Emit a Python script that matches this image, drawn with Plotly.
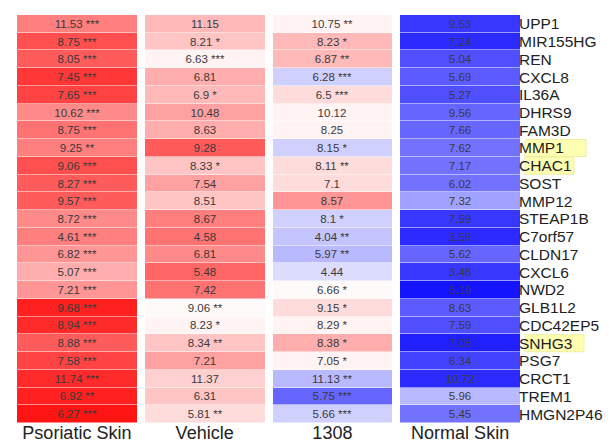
import plotly.graph_objects as go

samples = ["Psoriatic Skin", "Vehicle", "1308", "Normal Skin"]
genes = ["UPP1", "MIR155HG", "REN", "CXCL8", "IL36A", "DHRS9", "FAM3D", "MMP1",
         "CHAC1", "SOST", "MMP12", "STEAP1B", "C7orf57", "CLDN17", "CXCL6", "NWD2",
         "GLB1L2", "CDC42EP5", "SNHG3", "PSG7", "CRCT1", "TREM1", "HMGN2P46"]

# displayed expression values and significance marks
psoriatic = [11.53, 8.75, 8.05, 7.45, 7.65, 10.62, 8.75, 9.25, 9.06, 8.27, 9.57, 8.72,
             4.61, 6.82, 5.07, 7.21, 9.68, 8.94, 8.88, 7.58, 11.74, 6.92, 6.27]
psoriatic_sig = ["***", "***", "***", "***", "***", "***", "***", "**", "***", "***", "***", "***",
                 "***", "***", "***", "***", "***", "***", "***", "***", "***", "**", "***"]
vehicle = [11.15, 8.21, 6.63, 6.81, 6.9, 10.48, 8.63, 9.28, 8.33, 7.54, 8.51, 8.67,
           4.58, 6.81, 5.48, 7.42, 9.06, 8.23, 8.34, 7.21, 11.37, 6.31, 5.81]
vehicle_sig = ["", "*", "***", "", "*", "", "", "", "*", "", "", "",
               "", "", "", "", "**", "*", "**", "", "", "", "**"]
c1308 = [10.75, 8.23, 6.87, 6.28, 6.5, 10.12, 8.25, 8.15, 8.11, 7.1, 8.57, 8.1,
         4.04, 5.97, 4.44, 6.66, 9.15, 8.29, 8.38, 7.05, 11.13, 5.75, 5.66]
c1308_sig = ["**", "*", "**", "***", "***", "", "", "*", "**", "", "", "*",
             "**", "**", "", "*", "*", "*", "*", "*", "**", "***", "***"]
normal = [9.53, 7.24, 5.04, 5.69, 5.27, 9.56, 7.66, 7.62, 7.17, 6.02, 7.32, 7.59,
          3.59, 5.62, 3.48, 5.19, 8.63, 7.59, 7.08, 6.34, 10.72, 5.96, 5.45]
normal_sig = [""] * len(genes)

# relative colour scores (row-scaled, -1 = blue, +1 = red)
psoriatic_score = [0.55, 0.75, 0.7, 0.85, 0.8, 0.5, 0.6, 0.55, 0.75, 0.7, 0.7, 0.5,
                   0.55, 0.45, 0.35, 0.45, 0.95, 0.9, 0.7, 0.8, 0.9, 0.95, 1.0]
vehicle_score = [0.3, 0.25, 0.05, 0.35, 0.3, 0.4, 0.35, 0.7, 0.25, 0.4, 0.25, 0.55,
                 0.6, 0.5, 0.65, 0.6, 0.02, 0.05, 0.25, 0.4, 0.2, 0.25, 0.15]
c1308_score = [0.05, 0.3, 0.3, -0.2, 0.15, 0.05, 0.05, -0.2, 0.15, 0.15, 0.45, -0.2,
               -0.25, -0.3, -0.15, 0.02, 0.15, 0.05, 0.35, 0.05, -0.3, -0.65, -0.2]
normal_score = [-0.85, -0.9, -0.75, -0.7, -0.75, -0.65, -0.65, -0.6, -0.6, -0.6, -0.4, -0.85,
                -0.9, -0.65, -0.85, -1.0, -0.7, -0.75, -0.95, -0.8, -0.9, -0.3, -0.6]

highlighted = {"MMP1": 578, "CHAC1": 566, "SNHG3": 576}

cols_v = [psoriatic, vehicle, c1308, normal]
cols_s = [psoriatic_sig, vehicle_sig, c1308_sig, normal_sig]
cols_z = [psoriatic_score, vehicle_score, c1308_score, normal_score]
n = len(genes)
z = [[cols_z[c][r] for c in range(4)] for r in range(n)]
text = [[f"{cols_v[c][r]:g} {cols_s[c][r]}".strip() for c in range(4)] for r in range(n)]

fig = go.Figure(go.Heatmap(
    z=z, x=list(range(4)), y=list(range(n)),
    text=text, texttemplate="%{text}",
    textfont=dict(family="Liberation Sans, Arial, sans-serif", size=11.5, color="#3a3a3a"),
    colorscale=[[0, "rgb(20,20,255)"], [0.5, "rgb(255,255,255)"], [1, "rgb(255,20,20)"]],
    zmin=-1, zmax=1, showscale=False, xgap=8, ygap=0.5,
    hoverinfo="skip",
))

W, H = 613, 445
L, R, T, B = 5, 97, 7, 30
pw = W - L - R
for g, xr in highlighted.items():
    i = genes.index(g)
    fig.add_shape(type="rect", xref="paper", yref="y",
                  x0=(517 - L) / pw, x1=(xr - L) / pw, y0=i - 0.48, y1=i + 0.48,
                  fillcolor="rgba(255,255,165,0.85)", line=dict(color="rgba(240,240,160,1)", width=1),
                  layer="below")

fig.update_layout(
    width=W, height=H, margin=dict(l=L, r=R, t=T, b=B, autoexpand=False),
    paper_bgcolor="white", plot_bgcolor="white",
    font=dict(family="Liberation Sans, Arial, sans-serif"),
    xaxis=dict(tickvals=list(range(4)), ticktext=samples, showgrid=False, zeroline=False,
               ticks="", ticklen=0, tickfont=dict(size=18, color="#222"), range=[-0.5, 3.5],
               ticklabelstandoff=-3, automargin=False),
    yaxis=dict(tickvals=list(range(n)), ticktext=genes, side="right", autorange="reversed",
               showgrid=False, zeroline=False, ticks="", ticklen=0, tickfont=dict(size=15.5, color="#222"),
               ticklabelstandoff=-6, automargin=False),
)
fig.write_html("out.html")
